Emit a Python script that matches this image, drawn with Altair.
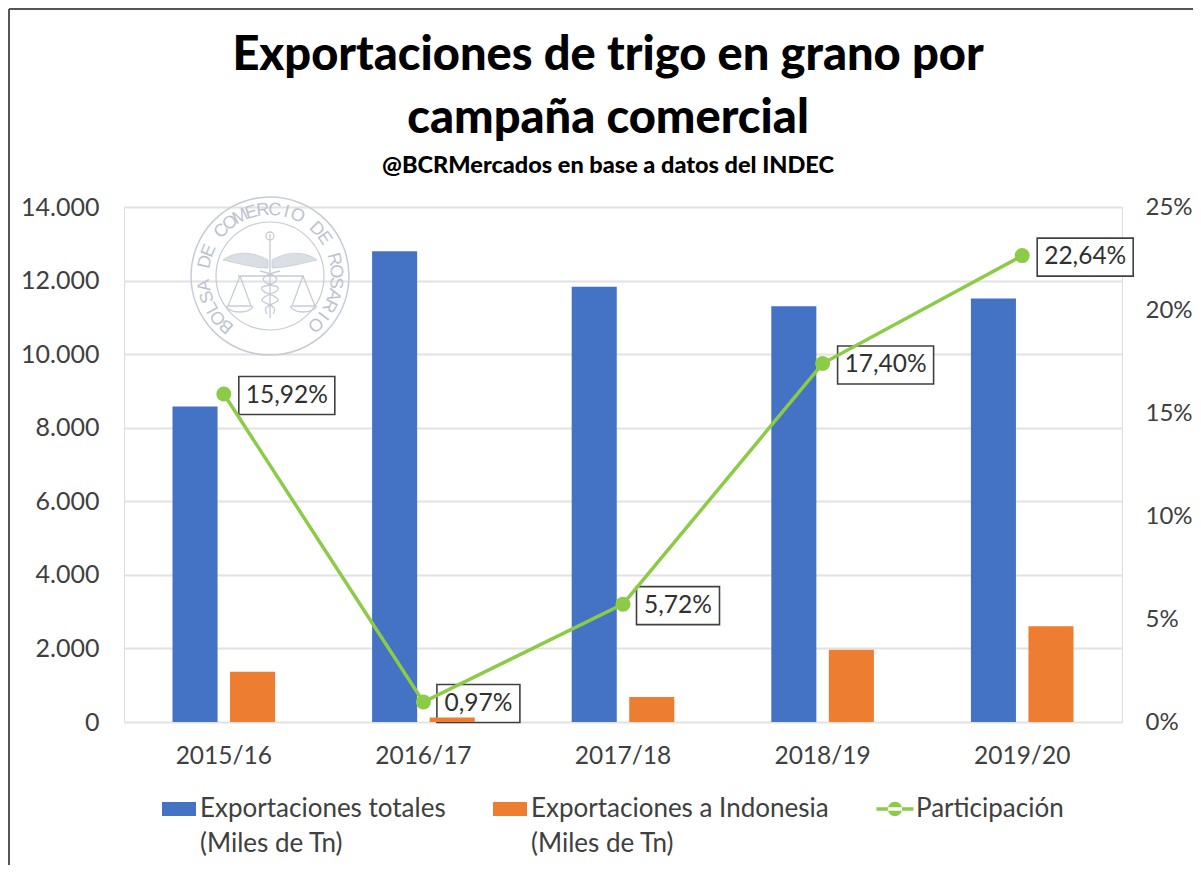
import math
import altair as alt
import pandas as pd

campanas = ["2015/16", "2016/17", "2017/18", "2018/19", "2019/20"]
totales = [8580, 12800, 11830, 11300, 11510]
indonesia = [1366, 124, 677, 1966, 2606]
participacion = [15.92, 0.97, 5.72, 17.40, 22.64]
etiquetas = ["15,92%", "0,97%", "5,72%", "17,40%", "22,64%"]
S_TOT = "Exportaciones totales|(Miles de Tn)"
S_IND = "Exportaciones a Indonesia|(Miles de Tn)"
S_PAR = "Participación| "
series = [S_TOT, S_IND, S_PAR]
colores = ["#4472C4", "#ED7D31", "#8CCB45"]
FONT = "Lato"
TXT = "#404040"
W, H = 998, 515

rows = []
for c, t, i in zip(campanas, totales, indonesia):
    rows.append({"campana": c, "serie": S_TOT, "valor": t})
    rows.append({"campana": c, "serie": S_IND, "valor": i})
bars_df = pd.DataFrame(rows)
line_df = pd.DataFrame({"campana": campanas, "pct": participacion, "txt": etiquetas, "serie": S_PAR})
ley_df = pd.DataFrame({"serie": series, "campana": campanas[:3], "v": [0, 0, 0]})

x_scale = alt.Scale(domain=campanas, paddingInner=0.486, paddingOuter=0.243)
x = alt.X("campana:N", scale=x_scale, sort=campanas,
          axis=alt.Axis(title=None, labelAngle=0, domain=False, ticks=False, labelPadding=22,
                        labelFont=FONT, labelFontSize=24.5, labelColor=TXT, grid=False))
y_left = alt.Y("valor:Q", scale=alt.Scale(domain=[0, 14000], nice=False),
               axis=alt.Axis(title=None, values=list(range(0, 14001, 2000)), orient="left",
                             labelExpr="replace(format(datum.value, ','), ',', '.')",
                             domain=False, ticks=False, labelPadding=25, labelFont=FONT,
                             labelFontSize=25, labelColor=TXT, grid=True, gridColor="#E2E2E2",
                             gridWidth=2))
y_right = alt.Y("pct:Q", scale=alt.Scale(domain=[0, 25], nice=False),
                axis=alt.Axis(title=None, values=[0, 5, 10, 15, 20, 25], orient="right",
                              labelExpr="datum.value + '%'", domain=False, ticks=False,
                              labelPadding=23, labelFont=FONT, labelFontSize=24,
                              labelColor=TXT, grid=False))
y_plain = alt.Y("pct:Q", scale=alt.Scale(domain=[0, 25], nice=False), axis=None)
color_scale = alt.Scale(domain=series, range=colores)

# Sello de agua (decorativo)
one = pd.DataFrame({"a": [0]})
SEAL = "#C6CCD6"
CX, CY = 146, 69


def circle(r, sw=1.5):
    return alt.Chart(one).mark_point(shape="circle", filled=False, color=SEAL, strokeWidth=sw,
                                     size=4 * r * r, opacity=1).encode(
        x=alt.value(CX), y=alt.value(CY))


def emblem(path, sw=1.2, fill=None):
    kw = {"fill": fill, "filled": True} if fill else {"filled": False}
    return alt.Chart(one).mark_point(shape=path, stroke=SEAL, strokeWidth=sw, size=40000, opacity=1,
                                     **kw).encode(x=alt.value(CX), y=alt.value(CY))


seal = [circle(79), circle(54, 1.2)]
wings = ("M-0.02,-0.16 C-0.2,-0.26 -0.36,-0.24 -0.47,-0.16 C-0.33,-0.13 -0.16,-0.08 -0.02,-0.08 Z "
         "M0.02,-0.16 C0.2,-0.26 0.36,-0.24 0.47,-0.16 C0.33,-0.13 0.16,-0.08 0.02,-0.08 Z")
seal.append(emblem(wings, 0.8, fill="#DADEE5"))
staff = ("M0,-0.42 L0,0.42 M-0.32,0 L0.34,0 M-0.3,0 L-0.42,0.3 L-0.19,0.3 L-0.3,0 "
         "M-0.44,0.3 C-0.4,0.38 -0.2,0.38 -0.17,0.3 M0.33,0 L0.22,0.3 L0.45,0.3 L0.33,0 "
         "M0.2,0.3 C0.24,0.38 0.42,0.38 0.47,0.3 "
         "M0.1,-0.05 C-0.12,0 -0.12,0.06 0.08,0.11 C0.12,0.17 -0.1,0.19 -0.08,0.25 C0,0.3 0.08,0.3 0.03,0.38 "
         "M-0.1,-0.05 C0.12,0 0.12,0.06 -0.08,0.11 C-0.12,0.17 0.1,0.19 0.08,0.25 C0,0.3 -0.08,0.3 -0.03,0.38 "
         "M-0.04,-0.4 a0.04,0.04 0 1,0 0.08,0 a0.04,0.04 0 1,0 -0.08,0")
seal.append(emblem(staff, 1.3))
sello_txt = "BOLSA DE COMERCIO DE ROSARIO"
n = len(sello_txt)
for k, ch in enumerate(sello_txt):
    if ch == " ":
        continue
    a = -139 + 276 * k / (n - 1)
    rad = math.radians(a)
    seal.append(alt.Chart(one).mark_text(text=ch, angle=a % 360, font="Liberation Sans", fontSize=18,
                                         color="#BCC3CF", align="center", baseline="middle").encode(
        x=alt.value(CX + 66 * math.sin(rad)), y=alt.value(CY - 66 * math.cos(rad))))

# Marco
marco = [
    alt.Chart(one).mark_rule(color="#555555", strokeWidth=2).encode(
        x=alt.value(-115), y=alt.value(-198), y2=alt.value(658)),
    alt.Chart(one).mark_rule(color="#555555", strokeWidth=2).encode(
        x=alt.value(-115), x2=alt.value(1069), y=alt.value(-198)),
]

leg = alt.Legend(
    title=None, orient="none", legendX=38, legendY=585, columns=3, columnPadding=47,
    labelFont=FONT, labelFontSize=26, labelColor=TXT, labelLimit=400,
    labelExpr="split(datum.label, '|')", labelOffset=4, symbolSize=1156,
    symbolOpacity=1, symbolStrokeWidth=0)

ejes = alt.Chart(bars_df).mark_bar(opacity=0).encode(x=x, y=y_left)
barras = alt.Chart(bars_df).mark_bar(clip=False).encode(
    x=x,
    xOffset=alt.XOffset("serie:N", sort=[S_TOT, S_IND], scale=alt.Scale(domain=[S_TOT, S_IND], paddingInner=0.217)),
    y=alt.Y("valor:Q", scale=alt.Scale(domain=[0, 14000], nice=False), axis=None),
    color=alt.Color("serie:N", scale=color_scale, legend=leg),
)
anchos = [("txt == '15,92%' || datum.txt == '17,40%' || datum.txt == '22,64%'", 96, 63),
          ("txt == '0,97%' || datum.txt == '5,72%'", 83, 55)]
cajas = [
    alt.Chart(line_df).transform_filter("datum." + f).mark_rect(
        width=w, height=38, xOffset=o, yOffset=1.5, fill="white", stroke="#404040", strokeWidth=1.6
    ).encode(x=x, y=y_plain)
    for f, w, o in anchos
]
linea = alt.Chart(line_df).mark_line(color=colores[2], strokeWidth=3.5).encode(x=x, y=y_plain)
puntos = alt.Chart(line_df).mark_point(filled=True, color=colores[2], size=225, opacity=1).encode(x=x, y=y_right)
textos = [
    alt.Chart(line_df).transform_filter("datum." + f).mark_text(
        font=FONT, fontSize=24.5, color="#303030", dx=o, dy=1.5, align="center", baseline="middle"
    ).encode(x=x, y=y_plain, text="txt:N")
    for f, w, o in anchos
]

RECT = "M-1,-0.41H1V0.41H-1Z"
LINE = ("M-1.09,-0.1H1.09V0.1H-1.09Z "
        "M-0.42,0a0.42,0.42 0 1,0 0.84,0a0.42,0.42 0 1,0 -0.84,0Z")
leyenda = alt.Chart(ley_df).mark_point(filled=True, opacity=0, size=10).encode(
    x=x,
    y=alt.Y("v:Q", scale=alt.Scale(domain=[0, 14000], nice=False), axis=None),
    color=alt.Color("serie:N", scale=color_scale, legend=leg),
    shape=alt.Shape("serie:N", scale=alt.Scale(domain=series, range=[RECT, RECT, LINE]), legend=leg),
)

chart = alt.layer(*marco, ejes, *seal, *cajas, barras, linea, puntos, *textos, leyenda).resolve_scale(
    y="independent"
).properties(
    width=W, height=H,
    autosize=alt.AutoSizeParams(type="none"),
    padding={"left": 116, "top": 199, "right": 71, "bottom": 143},
    title=alt.TitleParams(
        text=["Exportaciones de trigo en grano por", "campaña comercial"],
        subtitle="@BCRMercados  en base a datos del INDEC",
        anchor="middle", dx=-15, dy=170, offset=0, font="Lato", fontSize=47, fontWeight=900,
        color="#000000", lineHeight=63, subtitleFont="Lato", subtitleFontSize=23.5,
        subtitleFontWeight=900, subtitleColor="#000000", subtitlePadding=11),
).configure_view(stroke=None).configure(style={"guide-label": {"lineHeight": 35}})

chart.save("out.html", embed_options={"renderer": "svg", "actions": False})
